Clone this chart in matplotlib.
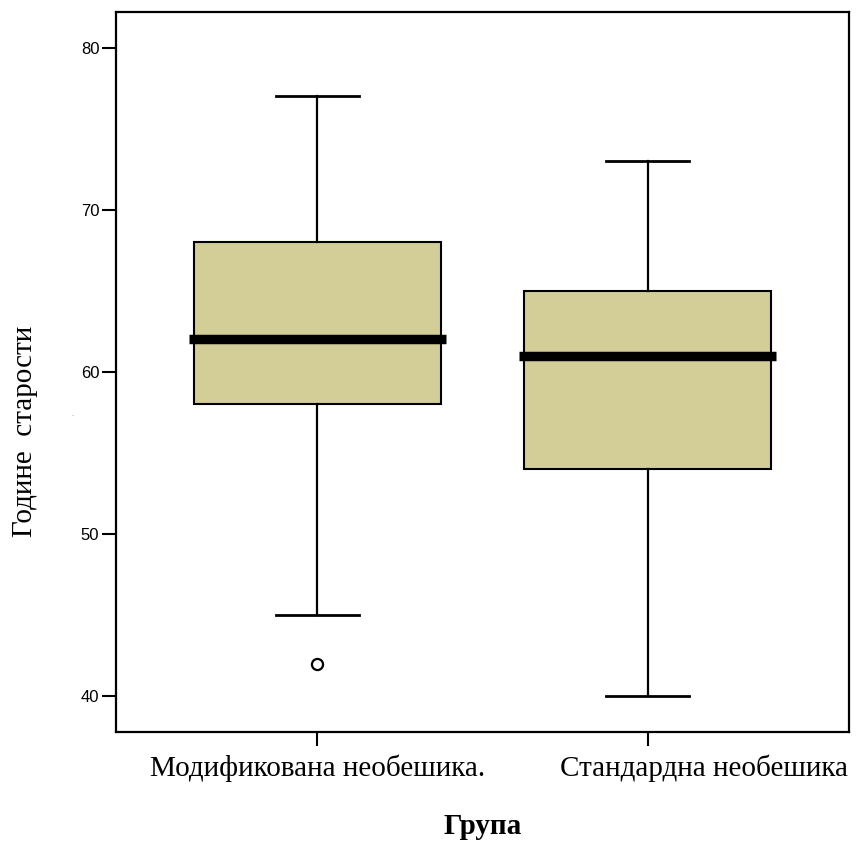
import matplotlib
matplotlib.use("Agg")
import matplotlib.pyplot as plt
from matplotlib.transforms import ScaledTranslation

# Age by treatment group
groups = ["Модификована необешика.", "Стандардна необешика"]
whisker_low = [45, 40]
q1 = [58, 54]
median = [62, 61]
q3 = [68, 65]
whisker_high = [77, 73]
outliers = [[42], []]
y_ticks = [40, 50, 60, 70, 80]

W, H, DPI = 857, 846, 100
fig = plt.figure(figsize=(W / DPI, H / DPI), dpi=DPI)
ax = fig.add_axes([116 / W, 1 - 732 / H, (849 - 116) / W, (732 - 12) / H])

stats = []
for i, g in enumerate(groups):
    stats.append(dict(label=g, whislo=whisker_low[i], q1=q1[i], med=median[i],
                      q3=q3[i], whishi=whisker_high[i], fliers=outliers[i]))

positions = [1, 2]
box_width = 0.75
parts = ax.bxp(stats, positions=positions, widths=box_width, patch_artist=True,
               showfliers=True,
               boxprops=dict(facecolor="#D3CE97", edgecolor="black", linewidth=1.5),
               medianprops=dict(color="black", linewidth=6.8, solid_capstyle="butt"),
               whiskerprops=dict(color="black", linewidth=1.6),
               capprops=dict(color="black", linewidth=2.0),
               capwidths=0.25,
               flierprops=dict(marker="o", markersize=8, markerfacecolor="white",
                               markeredgecolor="black", markeredgewidth=1.6))

# Median bars reach a little past the box edges
for pos, line in zip(positions, parts["medians"]):
    half = box_width / 2 + 0.013
    line.set_xdata([pos - half, pos + half])

ax.set_xlim(0.39, 2.61)
ax.set_ylim(37.78, 82.2)
ax.set_yticks(y_ticks)
ax.set_yticklabels([str(v) for v in y_ticks], fontsize=12,
                   family=["Liberation Sans", "DejaVu Sans"])
ax.set_xticks(positions)
ax.set_xticklabels(groups, fontsize=21, family=["Liberation Serif", "DejaVu Serif"])
ax.tick_params(axis="both", direction="out", length=10, width=1.5, color="black")
ax.tick_params(axis="y", pad=2)
ax.tick_params(axis="x", pad=6)

labels = ax.get_xticklabels()
labels[1].set_transform(labels[1].get_transform() +
                        ScaledTranslation(0.56, 0, fig.dpi_scale_trans))

for s in ax.spines.values():
    s.set_linewidth(1.6)
    s.set_color("black")

fig.text(25 / W, 1 - 431 / H, "Године  старости", rotation=90, ha="center",
         va="center", fontsize=21, family=["Liberation Serif", "DejaVu Serif"])
fig.text(483 / W, 1 - 826 / H, "Група", ha="center", va="center", fontsize=21,
         fontweight="bold", family=["Liberation Serif", "DejaVu Serif"])
fig.text(73 / W, 1 - 416 / H, "-", ha="center", va="center", fontsize=4,
         color="#888888")

fig.savefig("out.png", dpi=DPI)
